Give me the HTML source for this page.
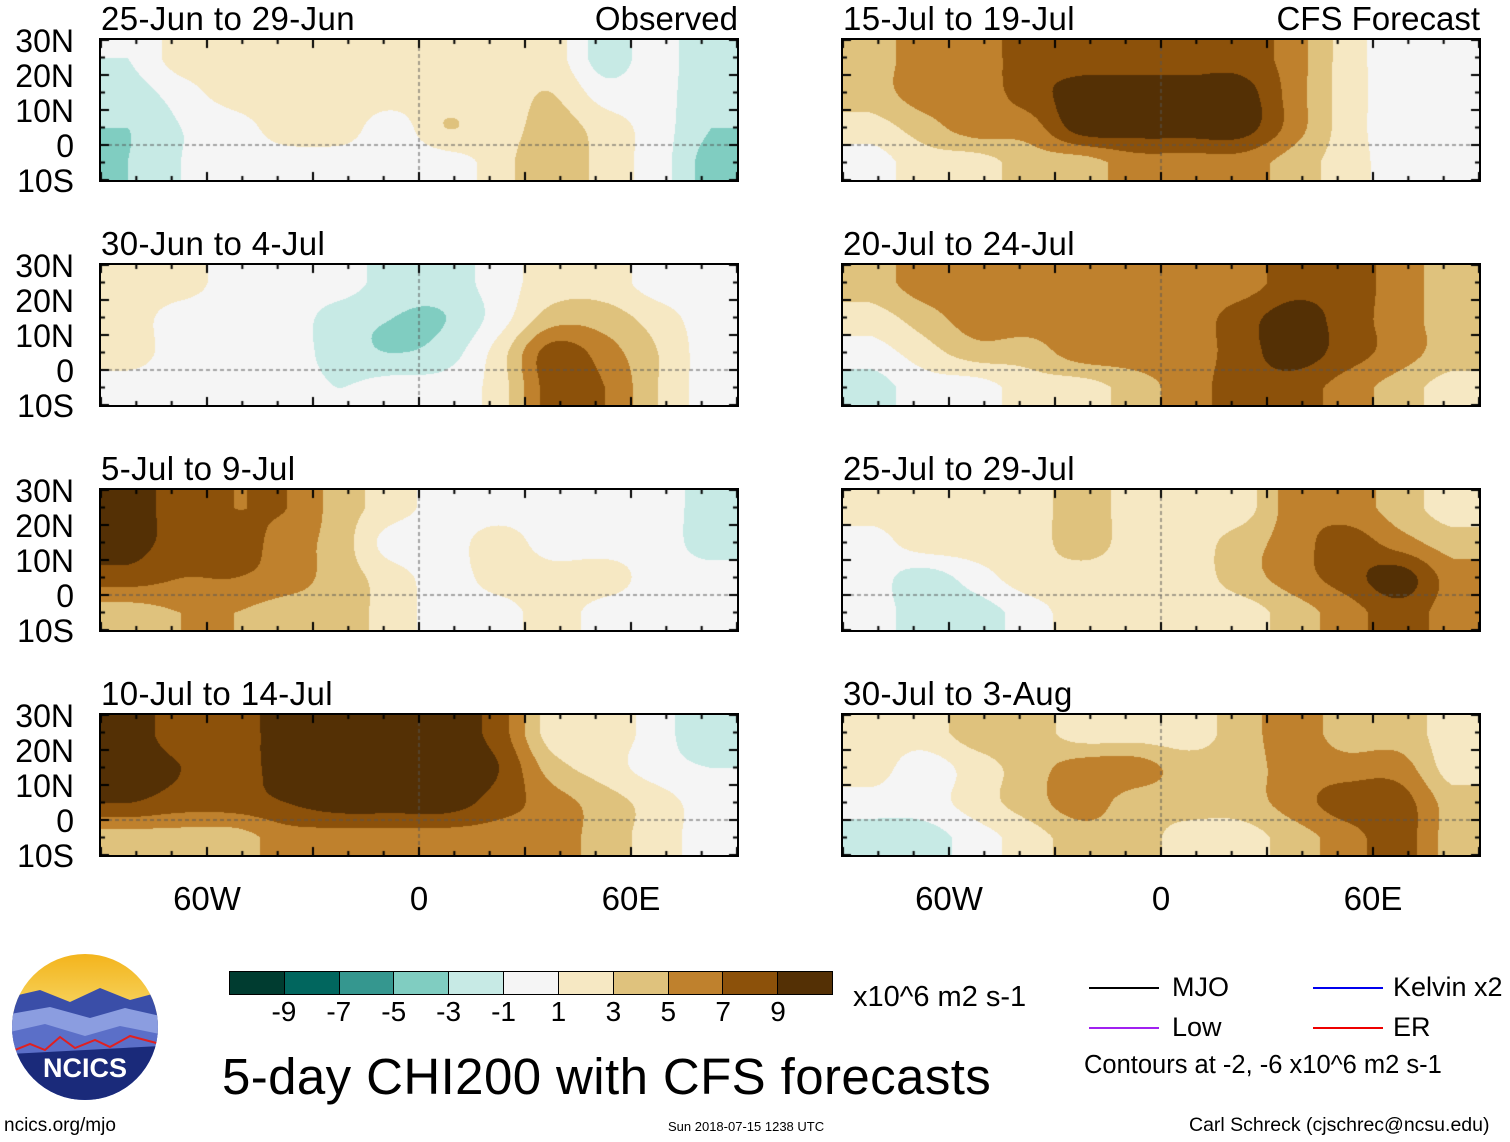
<!DOCTYPE html>
<html><head><meta charset="utf-8">
<style>
body{margin:0;background:#fff;width:1510px;height:1142px;position:relative;overflow:hidden;font-family:"Liberation Sans",sans-serif;color:#000}
.t{position:absolute;white-space:nowrap;line-height:1}
.panel{position:absolute;width:640px;height:144px;border:2px solid #000;box-sizing:border-box}
.panel canvas{position:absolute;left:0;top:0}
.yl{position:absolute;font-size:32px;text-align:right;width:72px;left:2px;line-height:1}
</style></head><body>
<div id="root"></div>

<div class="t" style="left:222px;top:1051px;font-size:51px;letter-spacing:0.4px">5-day CHI200 with CFS forecasts</div>
<div class="t" style="left:853px;top:983px;font-size:29px">x10^6 m2 s-1</div>
<div class="t" style="left:4px;top:1116px;font-size:19px">ncics.org/mjo</div>
<div class="t" style="left:668px;top:1120px;font-size:13px">Sun 2018-07-15 1238 UTC</div>
<div class="t" style="left:1189px;top:1116px;font-size:19.5px">Carl Schreck (cjschrec@ncsu.edu)</div>

<div>
<div style="position:absolute;left:1089px;top:987px;width:70px;height:2px;background:#000"></div>
<div class="t" style="left:1172px;top:974px;font-size:27px">MJO</div>
<div style="position:absolute;left:1313px;top:987px;width:70px;height:2px;background:#0000ee"></div>
<div class="t" style="left:1393px;top:974px;font-size:27px">Kelvin x2</div>
<div style="position:absolute;left:1089px;top:1027px;width:70px;height:2px;background:#a020f0"></div>
<div class="t" style="left:1172px;top:1014px;font-size:27px">Low</div>
<div style="position:absolute;left:1313px;top:1027px;width:70px;height:2px;background:#ee0000"></div>
<div class="t" style="left:1393px;top:1014px;font-size:27px">ER</div>
<div class="t" style="left:1084px;top:1053px;font-size:25.5px">Contours at -2, -6 x10^6 m2 s-1</div>
</div>

<svg style="position:absolute;left:10px;top:952px" width="150" height="150">
<defs><clipPath id="cc"><circle cx="75" cy="75" r="73"/></clipPath>
<linearGradient id="sky" x1="0" y1="0" x2="0" y2="1"><stop offset="0" stop-color="#f3b31a"/><stop offset="0.45" stop-color="#f7d96a"/></linearGradient></defs>
<g clip-path="url(#cc)">
<rect width="150" height="150" fill="url(#sky)"/>
<path d="M0 45 L30 38 L60 50 L90 36 L120 48 L150 40 L150 150 L0 150Z" fill="#3a4ea8"/>
<path d="M0 62 L40 55 L80 66 L115 56 L150 64 L150 150 L0 150Z" fill="#8b9de0"/>
<path d="M0 80 L35 72 L75 84 L110 74 L150 82 L150 150 L0 150Z" fill="#5b6fc8"/>
<path d="M0 100 L20 92 L35 98 L50 85 L65 96 L85 88 L100 95 L120 84 L150 92" stroke="#e02020" stroke-width="2" fill="none"/>
<path d="M0 102 L150 94 L150 150 L0 150Z" fill="#1a2a7a"/>
</g>
<text x="75" y="125" text-anchor="middle" font-family="Liberation Sans" font-weight="bold" font-size="27" fill="#fff">NCICS</text>
</svg>

<div id="cbar" style="position:absolute;left:229px;top:971px;width:604px;height:24px;border:1px solid #000;box-sizing:border-box;display:flex"></div>

<script>
const COLORS=['#003c30','#01665e','#35978f','#80cdc1','#c7eae5','#f5f5f5','#f6e8c3','#dfc27d','#bf812d','#8c510a','#543005'];
const LEVELS=[-9,-7,-5,-3,-1,1,3,5,7,9];
const cbarLabels=['-9','-7','-5','-3','-1','1','3','5','7','9'];
const lons=[-82.5,-67.5,-52.5,-37.5,-22.5,-7.5,7.5,22.5,37.5,52.5,67.5,82.5];
const lats=[25,15,5,-5];
const titles=['25-Jun to 29-Jun','30-Jun to 4-Jul','5-Jul to 9-Jul','10-Jul to 14-Jul','15-Jul to 19-Jul','20-Jul to 24-Jul','25-Jul to 29-Jul','30-Jul to 3-Aug'];
const p1=[[-1,2,2,2,2,2,2,2,2,-2,0,-3],[-2,0,2,2,2,2,2,2,3,0,0,-3],[-3,-1,0,2,2,0,3,2,4,2,0,-3],[-3,-1,0,0,0,0,0,2,5,2,0,-4]];
const p2=[[2,2,0,0,0,-2,-2,0,2,2,0,0],[2,0,0,0,-2,-3,-3,0,4,4,2,0],[2,0,0,0,-2,-3,-2,2,8,6,3,0],[0,0,0,0,-1,0,0,2,8,7,3,0]];
const p3=[[10,8,7,7,4,2,0,0,0,0,0,-2],[10,8,8,6,4,0,0,2,0,0,0,-2],[8,7,7,6,4,2,0,2,2,2,0,0],[4,5,5,4,4,2,0,0,2,0,0,0]];
const p4=[[10,8,8,10,10,10,10,8,2,2,0,-3],[10,9,8,10,10,10,10,9,4,2,0,-1],[9,8,8,9,10,10,10,8,6,4,2,0],[4,4,4,6,6,6,6,6,6,4,2,0]];
const p5=[[4,6,6,8,8,8,8,8,6,2,0,0],[4,6,6,8,10,10,10,10,6,2,0,-1],[2,4,6,6,10,10,10,10,6,2,0,0],[0,2,2,4,4,6,6,6,4,2,0,0]];
const p6=[[4,6,6,6,6,6,6,6,8,8,6,4],[2,4,6,6,6,6,6,8,10,8,6,4],[0,2,4,4,6,6,6,8,10,8,6,4],[-2,0,0,2,2,4,6,8,8,6,4,2]];
const p7=[[2,2,2,2,4,2,2,2,6,6,4,2],[0,2,2,2,4,2,2,4,6,8,6,4],[0,-2,0,2,2,2,2,4,6,8,10,6],[0,-2,-2,0,2,2,2,2,4,6,8,6]];
const p8=[[2,2,4,4,2,2,2,4,6,4,4,2],[2,0,2,4,6,6,4,4,6,6,6,2],[0,0,2,4,6,4,4,4,6,8,8,4],[-2,-2,0,2,4,4,2,2,4,6,8,4]];
const panels=[p1,p2,p3,p4,p5,p6,p7,p8];
const xTicks=[-60,0,60];
const xTickLabels=['60W','0','60E'];
const yTicks=[30,20,10,0,-10];
const yTickLabels=['30N','20N','10N','0','10S'];

const W=636,H=140;
const xs=lon=>(lon+90)/180*W;
const ys=lat=>(30-lat)/40*H;
function colorOf(v){let i=0;while(i<LEVELS.length&&v>=LEVELS[i])i++;return COLORS[i];}
function hex(c){return [parseInt(c.substr(1,2),16),parseInt(c.substr(3,2),16),parseInt(c.substr(5,2),16)];}
function cr(p0,p1,p2,p3,t){return 0.5*(2*p1+(-p0+p2)*t+(2*p0-5*p1+4*p2-p3)*t*t+(-p0+3*p1-3*p2+p3)*t*t*t);}
function at(g,j,i){j=Math.max(0,Math.min(lats.length-1,j));i=Math.max(0,Math.min(lons.length-1,i));return g[j][i];}
function sample(g,lon,lat){
  let fx=(lon-lons[0])/15, fy=(lats[0]-lat)/10;
  fx=Math.max(0,Math.min(lons.length-1.0001,fx)); fy=Math.max(0,Math.min(lats.length-1.0001,fy));
  const i=Math.floor(fx), j=Math.floor(fy), tx=fx-i, ty=fy-j;
  const r=[];
  for(let k=-1;k<=2;k++)r.push(cr(at(g,j+k,i-1),at(g,j+k,i),at(g,j+k,i+1),at(g,j+k,i+2),tx));
  return cr(r[0],r[1],r[2],r[3],ty);
}
const root=document.getElementById('root');
const cb=document.getElementById('cbar');
COLORS.forEach((c,k)=>{const d=document.createElement('div');


d.style.cssText='flex:1;background:'+c+';border-right:'+(k<10?'1px solid #000':'none');cb.appendChild(d);});
cbarLabels.forEach((l,k)=>{const d=document.createElement('div');


d.className='t';d.textContent=l;d.style.cssText+='font-size:28px;top:998px;left:'+(229+(k+1)*604/11)+'px;transform:translateX(-50%)';document.body.appendChild(d);});

panels.forEach((g,p)=>{
  const col=p<4?0:1,row=p%4;
  const L=col?841:99, T=38+row*225;
  const d=document.createElement('div');
  
  
  d.className='panel';d.style.left=L+'px';d.style.top=T+'px';
  const cv=document.createElement('canvas');cv.width=W;cv.height=H;
  
  
  d.appendChild(cv);
  const ctx=cv.getContext('2d'),img=ctx.createImageData(W,H);
  for(let y=0;y<H;y++)for(let x=0;x<W;x++){
    const lon=x/W*180-90, lat=30-y/H*40;
    const c=hex(colorOf(sample(g,lon,lat)));const o=(y*W+x)*4;
    img.data[o]=c[0];img.data[o+1]=c[1];img.data[o+2]=c[2];img.data[o+3]=255;}
  ctx.putImageData(img,0,0);
  ctx.strokeStyle='#555';ctx.setLineDash([4,3]);ctx.lineWidth=1;
  ctx.beginPath();ctx.moveTo(0,ys(0));ctx.lineTo(W,ys(0));ctx.moveTo(xs(0),0);ctx.lineTo(xs(0),H);ctx.stroke();
  ctx.setLineDash([]);ctx.strokeStyle='#000';ctx.lineWidth=2;ctx.beginPath();
  for(let lo=-90;lo<=90;lo+=10){const x=xs(lo),len=lo%30==0?8:4;ctx.moveTo(x,0);ctx.lineTo(x,len);ctx.moveTo(x,H);ctx.lineTo(x,H-len);}
  for(let la=-10;la<=30;la+=5){const y=ys(la),len=la%10==0?8:4;ctx.moveTo(0,y);ctx.lineTo(len,y);ctx.moveTo(W,y);ctx.lineTo(W-len,y);}
  ctx.stroke();
  root.appendChild(d);
  const t=document.createElement('div');
  
  
  t.className='t';t.textContent=titles[p];t.style.cssText+='font-size:33px;letter-spacing:0.4px;left:'+(L+2)+'px;top:'+(T-36)+'px';root.appendChild(t);
  if(row==0){const r=document.createElement('div');
    
    
    r.className='t';r.textContent=col?'CFS Forecast':'Observed';r.style.cssText+='font-size:33px;right:'+(1510-L-639)+'px;top:'+(T-36)+'px';root.appendChild(r);}
  if(col==0){yTicks.forEach((lt,k)=>{const y=document.createElement('div');
    
    
    y.className='yl';y.textContent=yTickLabels[k];y.style.top=(T+2+ys(lt)-15)+'px';root.appendChild(y);});}
  if(row==3){xTicks.forEach((lo,k)=>{const x=document.createElement('div');
    
    
    x.className='t';x.textContent=xTickLabels[k];x.style.cssText+='font-size:33px;top:882px;left:'+(L+2+xs(lo))+'px;transform:translateX(-50%)';root.appendChild(x);});}
});
</script>
</body></html>
